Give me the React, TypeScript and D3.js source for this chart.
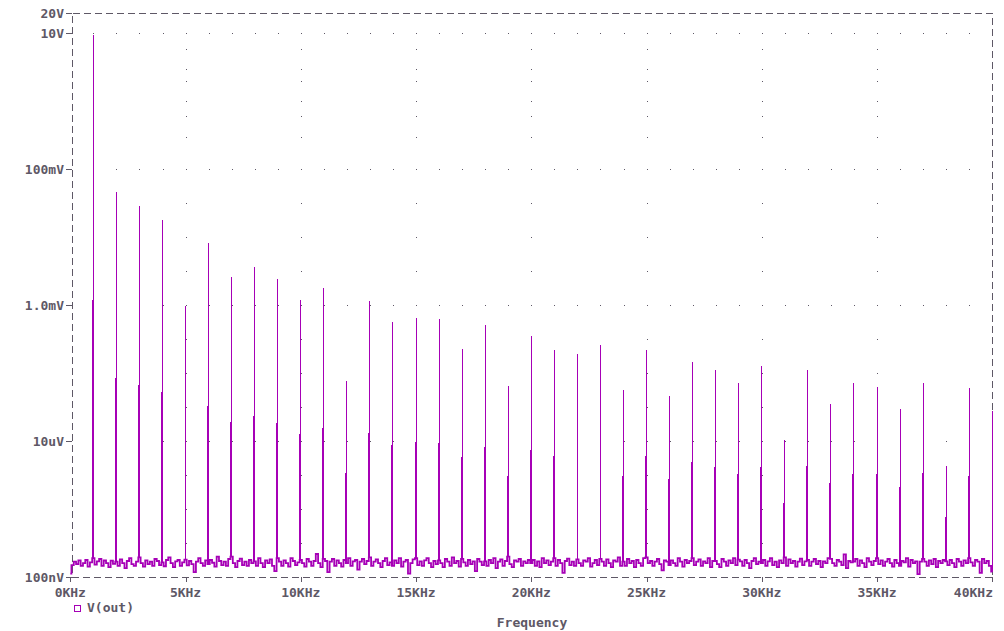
import * as d3 from 'd3';
import {useMemo} from 'react';

const WIDTH = 1004;
const HEIGHT = 631;
const LEFT = 72;
const RIGHT = 992;
const TOP = 13;
const BOTTOM = 577;

const TRACE = '#a600b6';
const INK = '#5e5866';
const FONT = "'DejaVu Sans Mono', monospace";

// harmonic number (KHz), peak bin and side-bin levels in volts (0 = no side bins)
const harmonicsKHz = [1, 2, 3, 4, 5, 6, 7, 8, 9, 10, 11, 12, 13, 14, 15, 16, 17, 18, 19, 20,
  21, 22, 23, 24, 25, 26, 27, 28, 29, 30, 31, 32, 33, 34, 35, 36, 37, 38, 39, 40];
const peakVolts = [9.35, 45.9e-3, 28.6e-3, 17.8e-3, 0.97e-3, 8.2e-3, 2.58e-3, 3.62e-3, 2.41e-3, 1.19e-3,
  1.78e-3, 76e-6, 1.15e-3, 562e-6, 644e-6, 622e-6, 225e-6, 508e-6, 64e-6, 350e-6,
  218e-6, 190e-6, 258e-6, 56e-6, 218e-6, 46e-6, 145e-6, 111e-6, 71e-6, 127e-6,
  10.4e-6, 111e-6, 35e-6, 71e-6, 62e-6, 29.6e-6, 71e-6, 4.3e-6, 60e-6, 27.6e-6];
const sideVolts = [1.19e-3, 84e-6, 67e-6, 53e-6, 0, 32.7e-6, 19e-6, 23.3e-6, 18.4e-6, 12.7e-6,
  15.5e-6, 3.4e-6, 13.1e-6, 8.7e-6, 9.7e-6, 9.35e-6, 5.8e-6, 8.2e-6, 3.05e-6, 7.4e-6,
  6.0e-6, 0, 0, 3.05e-6, 6.0e-6, 2.76e-6, 4.9e-6, 4.15e-6, 3.27e-6, 4.15e-6,
  1.22e-6, 4.3e-6, 2.41e-6, 3.27e-6, 3.27e-6, 2.11e-6, 3.38e-6, 0.76e-6, 3.05e-6, 0];

// noise floor, one value per 100 Hz bin from 0 Hz, in nV
const noiseNanoVolts = [
  112, 150, 168, 155, 176, 146, 160, 178, 142, 164, 190, 152, 170, 184, 146, 175, 160, 140, 174, 156,
  168, 146, 182, 160, 135, 172, 190, 155, 146, 168, 195, 160, 142, 176, 155, 168, 146, 184, 172, 150,
  164, 144, 178, 195, 160, 140, 170, 178, 146, 164, 180, 148, 172, 155, 118, 168, 190, 160, 146, 176,
  155, 178, 162, 142, 200, 172, 150, 168, 146, 184, 200, 160, 140, 172, 186, 150, 168, 146, 178, 160,
  170, 146, 190, 160, 140, 176, 160, 182, 146, 122, 190, 168, 146, 176, 160, 142, 190, 172, 150, 164,
  178, 160, 142, 184, 168, 146, 172, 218, 160, 140, 185, 172, 118, 168, 184, 146, 176, 160, 142, 178,
  160, 190, 146, 170, 178, 128, 168, 184, 155, 172, 195, 146, 168, 182, 160, 140, 172, 190, 150, 164,
  146, 176, 160, 190, 142, 168, 178, 112, 160, 182, 190, 150, 170, 146, 176, 190, 160, 140, 172, 155,
  176, 160, 140, 184, 168, 146, 195, 160, 172, 142, 185, 164, 146, 178, 155, 170, 122, 184, 168, 150,
  170, 146, 178, 160, 190, 135, 168, 182, 146, 172, 200, 155, 140, 176, 168, 184, 146, 170, 160, 178,
  160, 178, 146, 170, 140, 190, 160, 176, 150, 168, 190, 146, 178, 160, 115, 172, 186, 150, 168, 146,
  182, 160, 146, 176, 168, 190, 142, 160, 178, 150, 185, 168, 146, 182, 160, 140, 176, 168, 194, 146,
  168, 146, 184, 160, 172, 140, 178, 160, 146, 190, 195, 160, 172, 146, 168, 184, 155, 125, 176, 168,
  150, 176, 160, 146, 190, 168, 142, 178, 160, 172, 190, 150, 168, 182, 146, 170, 160, 190, 140, 172,
  172, 155, 140, 184, 168, 146, 176, 160, 190, 150, 180, 170, 146, 178, 160, 135, 172, 190, 155, 168,
  160, 178, 146, 170, 190, 150, 168, 140, 176, 160, 195, 146, 182, 160, 172, 142, 168, 186, 150, 170,
  178, 146, 168, 184, 155, 172, 140, 170, 160, 190, 185, 160, 146, 178, 168, 150, 215, 135, 172, 164,
  168, 184, 146, 176, 160, 140, 190, 168, 150, 172, 190, 155, 176, 146, 168, 184, 160, 142, 178, 160,
  146, 172, 164, 190, 142, 178, 160, 170, 110, 168, 185, 168, 146, 176, 155, 184, 140, 172, 160, 178,
  170, 150, 178, 160, 140, 184, 168, 146, 176, 160, 190, 164, 146, 178, 168, 115, 184, 160, 172, 146,
  120,
];
const NOISE_STEP_KHZ = 0.1;

const yTickValues = [1e-7, 1e-5, 1e-3, 1e-1, 10, 20];
const yTickLabels = ['100nV', '10uV', '1.0mV', '100mV', '10V', '20V'];
const xTickValues = [0, 5, 10, 15, 20, 25, 30, 35, 40];
const xTickLabels = ['0KHz', '5KHz', '10KHz', '15KHz', '20KHz', '25KHz', '30KHz', '35KHz', '40KHz'];

// dotted grid
const gridRowVolts = [10, 0.1, 1e-3, 1e-5];
const gridColumnKHz = [5, 10, 15, 20, 25, 30, 35];
const gridColumnVolts = [6, 3, 2, 1, 0.6, 0.3, 31.6e-3, 10e-3, 3.16e-3,
  316e-6, 100e-6, 31.6e-6, 3.16e-6, 1e-6, 316e-9];

function App() {
  const x = useMemo(() => d3.scaleLinear().domain([0, 40]).range([70.3, 992.3]), []);
  const y = useMemo(() => d3.scaleLog().domain([1e-7, 20]).range([BOTTOM, TOP]), []);

  const noisePath = useMemo(() => {
    const line = d3
      .line<number>()
      .x((_, i) => x(i * NOISE_STEP_KHZ))
      .y((v) => y(v * 1e-9))
      .curve(d3.curveStep);
    return line(noiseNanoVolts);
  }, [x, y]);

  const dots: [number, number][] = [];
  gridRowVolts.forEach((v) => {
    d3.range(1, 40).forEach((k) => dots.push([Math.round(x(k)), Math.round(y(v))]));
  });
  gridColumnKHz.forEach((f) => {
    gridColumnVolts.forEach((v) => dots.push([Math.round(x(f)), Math.round(y(v))]));
  });

  return (
    <svg
      width={WIDTH}
      height={HEIGHT}
      style={{position: 'absolute', left: 0, top: 0, background: '#fff'}}
      fontFamily={FONT}
      fontWeight="bold"
      fontSize={13}
    >
      {dots.map(([dx, dy], i) => (
        <rect key={'d' + i} x={dx} y={dy} width={1} height={1} fill={INK} />
      ))}

      <rect
        x={LEFT + 0.5}
        y={TOP + 0.5}
        width={RIGHT - LEFT}
        height={BOTTOM - TOP}
        fill="none"
        stroke={INK}
        strokeWidth={1}
        strokeDasharray="7,4"
        shapeRendering="crispEdges"
      />

      {yTickValues.map((v, i) => (
        <g key={'y' + i}>
          <line x1={LEFT - 6} x2={LEFT} y1={Math.round(y(v)) + 0.5} y2={Math.round(y(v)) + 0.5} stroke={INK} />
          <text x={64} y={y(v)} dy="0.36em" textAnchor="end" fill={INK}>
            {yTickLabels[i]}
          </text>
        </g>
      ))}

      {xTickValues.map((v, i) => {
        const last = i === xTickValues.length - 1;
        const tx = last ? RIGHT : x(v);
        return (
          <g key={'x' + i}>
            <line x1={Math.round(tx) + 0.5} x2={Math.round(tx) + 0.5} y1={BOTTOM} y2={BOTTOM + 5} stroke={INK} />
            <text x={last ? RIGHT + 1 : x(v)} y={597} textAnchor={last ? 'end' : 'middle'} fill={INK}>
              {xTickLabels[i]}
            </text>
          </g>
        );
      })}

      <path d={noisePath!} fill="none" stroke={TRACE} strokeWidth={1.8} strokeLinejoin="miter" />

      {harmonicsKHz.map((k, i) => {
        const hx = Math.floor(x(k));
        const floorY = y(noiseNanoVolts[Math.round(k / NOISE_STEP_KHZ)] * 1e-9);
        const side = sideVolts[i];
        return (
          <g key={'h' + k} shapeRendering="crispEdges">
            {side > 0 && (
              <rect x={hx - 1} y={y(side)} width={2} height={floorY - y(side)} fill={TRACE} />
            )}
            <rect x={hx} y={y(peakVolts[i])} width={1} height={floorY - y(peakVolts[i])} fill={TRACE} />
          </g>
        );
      })}

      <rect x={74.5} y={605.5} width={6} height={6} fill="none" stroke={TRACE} />
      <text x={87} y={612} fill={INK}>V(out)</text>
      <text x={(LEFT + RIGHT) / 2} y={627} textAnchor="middle" fill={INK}>Frequency</text>
    </svg>
  );
}

export default App;
